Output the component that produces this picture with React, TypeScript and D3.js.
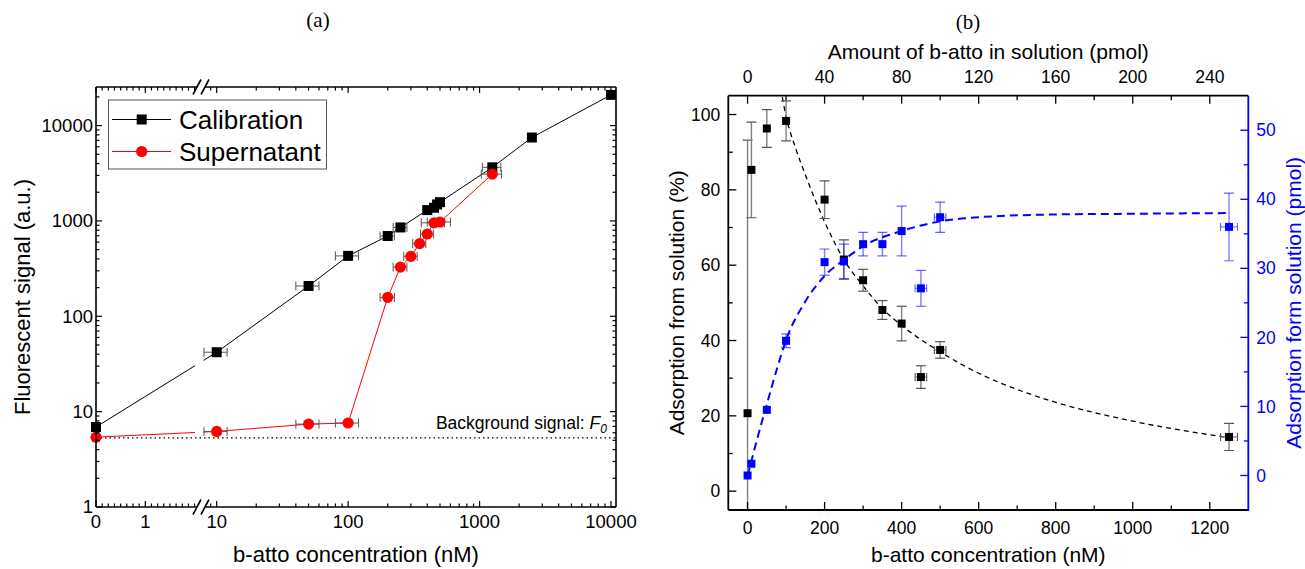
import React from "react";
import * as d3 from "d3";

const FONT = '"Liberation Sans", Arial, Helvetica, sans-serif';
const SERIF = '"Liberation Serif", "DejaVu Serif", serif';
const BLUE = "#0000ff";
const RED = "#ff0000";

// ---------- (a) fluorescent signal vs concentration ----------
const calibConc = [0, 10, 50, 100, 200, 250, 400, 450, 475, 500, 1250, 2500, 10000];
const calibSignal = [6.9, 42, 208, 430, 695, 855, 1300, 1375, 1490, 1575, 3650, 7500, 21000];
const calibConcErr = [0, 2, 10, 20, 25, 30, 0, 0, 0, 0, 200, 0, 0];

const superConc = [0, 10, 50, 100, 200, 250, 300, 350, 400, 450, 500, 1250];
const superSignal = [5.4, 6.2, 7.4, 7.6, 158, 328, 425, 578, 730, 955, 975, 3100];
const superConcErr = [0, 2, 10, 20, 25, 30, 35, 40, 45, 90, 100, 220];

const backgroundSignal = 5.3;

const aYTicks = [1, 10, 100, 1000, 10000];
const aXLinTicks = [0, 1];
const aXLogTicks = [10, 100, 1000, 10000];

// ---------- (b) adsorption from solution ----------
const bConc = [0, 10, 50, 100, 200, 250, 300, 350, 400, 450, 500, 1250];
const bConcErr = [0, 0, 0, 0, 0, 0, 0, 0, 0, 15, 15, 22];
const adsPct = [20.7, 85.3, 96.3, 98.3, 77.4, 61.5, 56.0, 48.1, 44.5, 30.3, 37.5, 14.4];
const adsPctErr = [72.5, 12.7, 5.0, 5.3, 5.0, 5.2, 2.9, 2.5, 4.6, 3.0, 2.2, 3.6];
const adsPmol = [0.0, 1.7, 9.5, 19.5, 30.9, 31.0, 33.5, 33.5, 35.4, 27.1, 37.4, 36.0];
const adsPmolErr = [0, 0, 0, 1.0, 1.9, 2.5, 1.7, 1.7, 3.6, 2.6, 2.2, 4.9];

// fitted curves, sampled along concentration
const fitPctConc = [86, 100, 125, 150, 200, 250, 300, 350, 400, 500, 600, 700, 800, 1000, 1250];
const fitPctVal = [107, 99.5, 91, 84, 71.5, 61.5, 54.5, 48.5, 44, 37, 31.3, 27, 23.6, 18.6, 14.2];
const fitPmolConc = [0, 10, 25, 50, 75, 100, 150, 200, 250, 300, 400, 500, 600, 800, 1000, 1250];
const fitPmolVal = [0, 2.1, 5.3, 10.3, 15.2, 19.6, 25.2, 28.9, 31.2, 33.2, 35.4, 36.8, 37.4, 37.8, 37.9, 38.0];

const bXTicks = [0, 200, 400, 600, 800, 1000, 1200];
const bTopTicks = [0, 40, 80, 120, 160, 200, 240];
const bLeftTicks = [0, 20, 40, 60, 80, 100];
const bRightTicks = [0, 10, 20, 30, 40, 50];

function PanelA() {
  const L = 96, R = 616, T = 87, B = 507;
  const y = d3.scaleLog().domain([1, 25400]).range([B, T]);
  const xLin = d3.scaleLinear().domain([0, 1]).range([L, 145.3]);
  const xLog = d3.scaleLog().domain([10, 10000]).range([216.7, 611]);
  const linEnd = 2.0;
  const logStart = 8;
  const x = (v: number) => (v < 5 ? xLin(v) : xLog(v));
  const brk1 = 197;
  const brk2 = 205;

  const yMinor: number[] = [];
  for (let k = 0; k <= 4; k++)
    for (let m = 2; m <= 9; m++) {
      const v = m * Math.pow(10, k);
      if (v <= 25400) yMinor.push(v);
    }
  const xMinorPx: number[] = [];
  for (let v = 0.125; v <= linEnd + 1e-9; v += 0.125) if (Math.abs(v - 1) > 1e-6) xMinorPx.push(xLin(v));
  for (let k = 0; k <= 3; k++)
    for (let m = 2; m <= 9; m++) {
      const v = m * Math.pow(10, k);
      if (v > logStart && v < 10878) xMinorPx.push(xLog(v));
    }
  const xMajorPx = [...aXLinTicks.map(xLin), ...aXLogTicks.map(xLog)];

  const maj = 6, mnr = 3.5;
  const line = d3.line<[number, number]>();
  const calibPts: [number, number][] = calibConc.map((c, i) => [x(c), y(calibSignal[i])]);
  const superPts: [number, number][] = superConc.map((c, i) => [x(c), y(superSignal[i])]);

  const errBars = (conc: number[], val: number[], err: number[], key: string) =>
    conc.map((c, i) => {
      if (!err[i]) return null;
      const x0 = x(c - err[i]);
      const x1 = x(c + err[i]);
      const yy = y(val[i]);
      return (
        <g key={key + i} stroke="#555" strokeWidth={1} fill="none">
          <line x1={x0} x2={x1} y1={yy} y2={yy} />
          <line x1={x0} x2={x0} y1={yy - 4.5} y2={yy + 4.5} />
          <line x1={x1} x2={x1} y1={yy - 4.5} y2={yy + 4.5} />
        </g>
      );
    });

  const slash = (cx: number, cy: number, k: string) => (
    <line key={k} x1={cx - 4} y1={cy + 7.5} x2={cx + 4} y2={cy - 7.5} stroke="#000" strokeWidth={1.6} />
  );

  const lgX = 108.5, lgY = 100, lgW = 218, lgH = 69;
  const row1 = 119.5, row2 = 151.5;

  return (
    <g>
      <defs>
        <clipPath id="gapClipA">
          <rect x={L - 10} y={T - 20} width={195 - (L - 10)} height={B - T + 40} />
          <rect x={203.5} y={T - 20} width={R + 20 - 203.5} height={B - T + 40} />
        </clipPath>
      </defs>

      {/* background level */}
      <line x1={L} x2={R} y1={y(backgroundSignal)} y2={y(backgroundSignal)} stroke="#000" strokeWidth={1.2} strokeDasharray="1.5 3" />
      <text x={607} y={429} fontFamily={FONT} fontSize={17.5} textAnchor="end" fill="#000">
        Background signal: <tspan fontStyle="italic">F</tspan>
        <tspan fontStyle="italic" fontSize={12} dy={4}>0</tspan>
      </text>

      {/* series lines */}
      <g clipPath="url(#gapClipA)">
        <path d={line(calibPts) || ""} fill="none" stroke="#000" strokeWidth={1} />
        <path d={line(superPts) || ""} fill="none" stroke={RED} strokeWidth={1} />
      </g>

      {errBars(calibConc, calibSignal, calibConcErr, "ce")}
      {errBars(superConc, superSignal, superConcErr, "se")}

      {calibPts.map((p, i) => (
        <rect key={"c" + i} x={p[0] - 5} y={p[1] - 5} width={10} height={10} fill="#000" />
      ))}
      {superPts.map((p, i) => (
        <circle key={"s" + i} cx={p[0]} cy={p[1]} r={5.6} fill={RED} />
      ))}

      {/* frame */}
      <g stroke="#000" strokeWidth={1.6} fill="none">
        <line x1={L} x2={L} y1={T} y2={B} />
        <line x1={R} x2={R} y1={T} y2={B} />
        <line x1={L} x2={brk1} y1={B} y2={B} />
        <line x1={brk2} x2={R} y1={B} y2={B} />
        <line x1={L} x2={brk1} y1={T} y2={T} />
        <line x1={brk2} x2={R} y1={T} y2={T} />
      </g>
      {slash(brk1, B, "b1")}
      {slash(brk2, B, "b2")}
      {slash(brk1, T, "t1")}
      {slash(brk2, T, "t2")}

      {/* ticks */}
      <g stroke="#000" strokeWidth={1.2}>
        {aYTicks.map((v) => (
          <g key={"ym" + v}>
            <line x1={L} x2={L + maj} y1={y(v)} y2={y(v)} />
            <line x1={R} x2={R - maj} y1={y(v)} y2={y(v)} />
          </g>
        ))}
        {yMinor.map((v) => (
          <g key={"yn" + v}>
            <line x1={L} x2={L + mnr} y1={y(v)} y2={y(v)} />
            <line x1={R} x2={R - mnr} y1={y(v)} y2={y(v)} />
          </g>
        ))}
        {xMajorPx.map((px, i) => (
          <g key={"xm" + i}>
            <line x1={px} x2={px} y1={B} y2={B - maj} />
            <line x1={px} x2={px} y1={T} y2={T + maj} />
          </g>
        ))}
        {xMinorPx.map((px, i) => (
          <g key={"xn" + i}>
            <line x1={px} x2={px} y1={B} y2={B - mnr} />
            <line x1={px} x2={px} y1={T} y2={T + mnr} />
          </g>
        ))}
      </g>

      {/* tick labels */}
      <g fontFamily={FONT} fontSize={18.5} fill="#000">
        {aYTicks.map((v) => (
          <text key={"yl" + v} x={L - 3} y={y(v)} dy="0.35em" textAnchor="end">
            {v}
          </text>
        ))}
        {aXLinTicks.map((v) => (
          <text key={"xll" + v} x={xLin(v)} y={528} textAnchor="middle">
            {v}
          </text>
        ))}
        {aXLogTicks.map((v) => (
          <text key={"xlg" + v} x={xLog(v)} y={528} textAnchor="middle">
            {v}
          </text>
        ))}
      </g>

      {/* axis titles */}
      <text x={(L + R) / 2} y={562} fontFamily={FONT} fontSize={22} textAnchor="middle">
        b-atto concentration (nM)
      </text>
      <text
        transform={`translate(22, ${(T + B) / 2}) rotate(-90)`}
        fontFamily={FONT}
        fontSize={22}
        textAnchor="middle"
        dominantBaseline="central"
      >
        Fluorescent signal (a.u.)
      </text>

      {/* legend */}
      <rect x={lgX} y={lgY} width={lgW} height={lgH} fill="#fff" stroke="#555" strokeWidth={1} />
      <line x1={112} x2={171} y1={row1} y2={row1} stroke="#000" strokeWidth={1} />
      <rect x={141.7 - 5} y={row1 - 5} width={10} height={10} fill="#000" />
      <line x1={112} x2={171} y1={row2} y2={row2} stroke={RED} strokeWidth={1} />
      <circle cx={141.7} cy={row2} r={5.6} fill={RED} />
      <text x={179} y={row1} dy="0.35em" fontFamily={FONT} fontSize={26}>
        Calibration
      </text>
      <text x={179} y={row2} dy="0.35em" fontFamily={FONT} fontSize={26}>
        Supernatant
      </text>

      <text x={318} y={27} fontFamily={SERIF} fontSize={21} textAnchor="middle">
        (a)
      </text>
    </g>
  );
}

function PanelB() {
  const L = 728.3, R = 1248.3, T = 95.7, B = 510;
  const x = d3.scaleLinear().domain([-50, 1300]).range([L, R]);
  const xTop = d3.scaleLinear().domain([-10, 260]).range([L, R]);
  const yL = d3.scaleLinear().domain([-5, 105]).range([B, T]);
  const yR = d3.scaleLinear().domain([-5, 55]).range([B, T]);
  const maj = 8, mnr = 4.5;

  const pctPath = d3
    .line<number>()
    .x((d, i) => x(fitPctConc[i]))
    .y((d) => yL(d))
    .curve(d3.curveMonotoneX)(fitPctVal);
  const pmolPath = d3
    .line<number>()
    .x((d, i) => x(fitPmolConc[i]))
    .y((d) => yR(d))
    .curve(d3.curveMonotoneX)(fitPmolVal);

  const bars = (val: number[], err: number[], ys: (v: number) => number, col: string, capCol: string, k: string) =>
    bConc.map((c, i) => {
      const cx = x(c);
      const cy = ys(val[i]);
      const out: any[] = [];
      if (err[i]) {
        const y0 = ys(val[i] - err[i]);
        const y1 = ys(val[i] + err[i]);
        out.push(<line key="v" x1={cx} x2={cx} y1={y0} y2={y1} stroke={col} strokeWidth={1.4} />);
        out.push(<line key="c1" x1={cx - 5} x2={cx + 5} y1={y0} y2={y0} stroke={capCol} strokeWidth={1.2} />);
        out.push(<line key="c2" x1={cx - 5} x2={cx + 5} y1={y1} y2={y1} stroke={capCol} strokeWidth={1.2} />);
      }
      if (bConcErr[i]) {
        const x0 = x(c - bConcErr[i]);
        const x1 = x(c + bConcErr[i]);
        out.push(<line key="h" x1={x0} x2={x1} y1={cy} y2={cy} stroke={col} strokeWidth={1.2} />);
        out.push(<line key="h1" x1={x0} x2={x0} y1={cy - 4} y2={cy + 4} stroke={capCol} strokeWidth={1.1} />);
        out.push(<line key="h2" x1={x1} x2={x1} y1={cy - 4} y2={cy + 4} stroke={capCol} strokeWidth={1.1} />);
      }
      return <g key={k + i}>{out}</g>;
    });

  const sq = 8;
  return (
    <g>
      <defs>
        <clipPath id="frameClipB">
          <rect x={L} y={T} width={R - L} height={B - T} />
        </clipPath>
      </defs>

      <g clipPath="url(#frameClipB)">
        <path d={pctPath || ""} fill="none" stroke="#000" strokeWidth={1.3} strokeDasharray="5 4" />
        <path d={pmolPath || ""} fill="none" stroke={BLUE} strokeWidth={2} strokeDasharray="8 5" />
        {bars(adsPct, adsPctErr, yL, "#808080", "#555", "pb")}
        {bars(adsPmol, adsPmolErr, yR, "rgba(0,0,255,0.5)", "rgba(0,0,255,0.6)", "mb")}
      </g>

      {bConc.map((c, i) => (
        <rect key={"pk" + i} x={x(c) - sq / 2} y={yL(adsPct[i]) - sq / 2} width={sq} height={sq} fill="#000" />
      ))}
      {bConc.map((c, i) => (
        <rect key={"mk" + i} x={x(c) - sq / 2} y={yR(adsPmol[i]) - sq / 2} width={sq} height={sq} fill={BLUE} />
      ))}

      {/* frame */}
      <g strokeWidth={1.8} fill="none">
        <line x1={L} x2={L} y1={T} y2={B} stroke="#000" />
        <line x1={L} x2={R} y1={B} y2={B} stroke="#000" />
        <line x1={L} x2={R} y1={T} y2={T} stroke="#000" />
        <line x1={R} x2={R} y1={T} y2={B + 0.9} stroke={BLUE} />
      </g>

      {/* ticks */}
      <g stroke="#000" strokeWidth={1.3}>
        {d3.range(0, 1300, 100).map((v) => {
          const len = v % 200 === 0 ? maj : mnr;
          return <line key={"bx" + v} x1={x(v)} x2={x(v)} y1={B} y2={B - len} />;
        })}
        {d3.range(0, 260, 20).map((v) => {
          const len = v % 40 === 0 ? maj : mnr;
          return <line key={"tx" + v} x1={xTop(v)} x2={xTop(v)} y1={T} y2={T + len} />;
        })}
        {d3.range(0, 105, 10).map((v) => {
          const len = v % 20 === 0 ? maj : mnr;
          return <line key={"ly" + v} x1={L} x2={L + len} y1={yL(v)} y2={yL(v)} />;
        })}
      </g>
      <g stroke={BLUE} strokeWidth={1.3}>
        {d3.range(0, 55, 5).map((v) => {
          const len = v % 10 === 0 ? maj : mnr;
          return <line key={"ry" + v} x1={R} x2={R - len} y1={yR(v)} y2={yR(v)} />;
        })}
      </g>

      {/* tick labels */}
      <g fontFamily={FONT} fontSize={17.5}>
        {bXTicks.map((v) => (
          <text key={"bxl" + v} x={x(v)} y={534} textAnchor="middle">
            {v}
          </text>
        ))}
        {bTopTicks.map((v) => (
          <text key={"txl" + v} x={xTop(v)} y={83} textAnchor="middle">
            {v}
          </text>
        ))}
        {bLeftTicks.map((v) => (
          <text key={"lyl" + v} x={L - 8} y={yL(v)} dy="0.35em" textAnchor="end">
            {v}
          </text>
        ))}
        {bRightTicks.map((v) => (
          <text key={"ryl" + v} x={R + 8} y={yR(v)} dy="0.35em" textAnchor="start" fill={BLUE}>
            {v}
          </text>
        ))}
      </g>

      {/* axis titles */}
      <text x={(L + R) / 2} y={562} fontFamily={FONT} fontSize={21} textAnchor="middle">
        b-atto concentration (nM)
      </text>
      <text x={(L + R) / 2} y={59} fontFamily={FONT} fontSize={21} textAnchor="middle">
        Amount of b-atto in solution (pmol)
      </text>
      <text
        transform={`translate(676, ${(T + B) / 2}) rotate(-90)`}
        fontFamily={FONT}
        fontSize={21}
        textAnchor="middle"
        dominantBaseline="central"
      >
        Adsorption from solution (%)
      </text>
      <text
        transform={`translate(1293, ${(T + B) / 2}) rotate(-90)`}
        fontFamily={FONT}
        fontSize={21}
        textAnchor="middle"
        dominantBaseline="central"
        fill={BLUE}
      >
        Adsorption form solution (pmol)
      </text>

      <text x={968} y={29} fontFamily={SERIF} fontSize={21} textAnchor="middle">
        (b)
      </text>
    </g>
  );
}

export default function App() {
  return (
    <svg
      width={1305}
      height={569}
      viewBox="0 0 1305 569"
      style={{ position: "absolute", left: 0, top: 0, background: "#fff" }}
    >
      <rect x={0} y={0} width={1305} height={569} fill="#fff" />
      <PanelA />
      <PanelB />
    </svg>
  );
}
